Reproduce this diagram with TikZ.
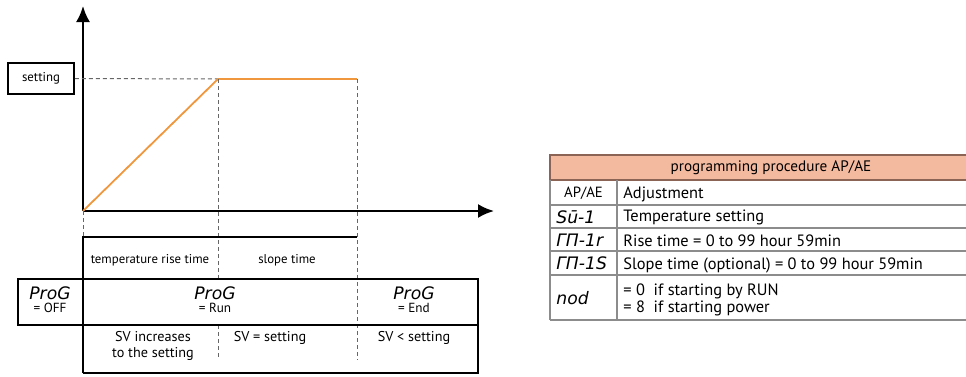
\documentclass[tikz,border=0pt]{standalone}
\usepackage{fontspec}
\setmainfont{PT Sans}
\newfontfamily\segfont{DejaVu Sans}
\usetikzlibrary{arrows.meta}
\usetikzlibrary{positioning}
\definecolor{ramp}{RGB}{240,150,60}
\definecolor{headfill}{RGB}{244,186,160}
\definecolor{headline}{RGB}{140,100,85}
\definecolor{gridgray}{RGB}{140,140,140}
\tikzset{axis/.style = {line width=1.1pt, -{Latex[length=8pt,width=7pt]}}}
\tikzset{guide/.style = {black!60, dash pattern=on 2pt off 1.5pt, line width=0.5pt}}
\tikzset{frame/.style = {line width=0.8pt}}
\tikzset{lbl/.style = {font=\fontsize{6.4}{7.4}\selectfont, inner sep=0}}
\tikzset{state/.style = {font=\fontsize{7.1}{8.1}\selectfont, inner sep=0, align=center}}
\tikzset{seg/.style = {font=\segfont\itshape\fontsize{8.6}{8.6}\selectfont, inner sep=0}}
\tikzset{segsub/.style = {font=\fontsize{6.6}{7}\selectfont, inner sep=0}}
\tikzset{cell/.style = {font=\fontsize{8.2}{8.2}\selectfont, inner sep=0, anchor=west, align=left}}
\tikzset{tabline/.style = {gridgray, line width=0.6pt}}

\begin{document}
\begin{tikzpicture}[x=0.5pt, y=-0.5pt]
    \useasboundingbox (0, 0) rectangle (966, 376);
    % axes
    \coordinate (O) at (83, 211);
    \coordinate (ytop) at (83, 6);
    \coordinate (xend) at (494, 211);
    \coordinate (A) at (218, 79);
    \coordinate (B) at (357, 79);
    \draw [axis] (O) -- (ytop);
    \draw [axis] (O) -- (xend);
    \node [draw, frame, lbl, minimum width=33pt, minimum height=15.5pt] (setting) at (41, 78.5) {setting};
    \draw [guide] (setting.east) -- (A);
    \draw [ramp, line width=0.9pt] (O) -- (A) -- (B);
    % time grid
    \coordinate (rowtop) at (83, 237);
    \coordinate (rowmid) at (218, 279);
    \draw [guide] (O) -- (rowtop);
    \draw [guide] (A) -- (rowmid);
    \draw [guide] (218, 325) -- (218, 360);
    \draw [guide] (B) -- (357, 360);
    \draw [frame] (83, 373) -- (rowtop) -- (357, 237);
    \draw [frame] (18, 279) rectangle (478, 325);
    \draw [frame] (83, 373) -- (478, 373) -- (478, 325);
    \node [lbl] (rise) at (150, 260) {temperature rise time};
    \node [lbl] (slope) at (287, 260) {slope time};
    \node [seg] (off) at (50, 293) {ProG};
    \node [segsub, below=1.5pt of off] (offsub) {= OFF};
    \node [seg] (run) at (215, 293) {ProG};
    \node [segsub, below=1.5pt of run] (runsub) {= Run};
    \node [seg] (end) at (414, 293) {ProG};
    \node [segsub, below=1.5pt of end] (endsub) {= End};
    \node [state] (sv1) at (153, 346) {SV increases\\to the setting};
    \node [state] (sv2) at (270, 338) {SV = setting};
    \node [state] (sv3) at (414, 338) {SV < setting};
    % table
    \fill [headfill] (550, 155) rectangle (966, 180);
    \draw [headline, line width=0.7pt] (966, 155) -- (550, 155) -- (550, 180) -- (966, 180);
    \node [font=\fontsize{7.6}{8.6}\selectfont, inner sep=0] (title) at (771, 168) {programming procedure AP/AE};
    \foreach \y in {205, 228, 251, 275, 320}
        \draw [tabline] (550, \y) -- (966, \y);
    \draw [tabline] (550, 180) -- (550, 320);
    \draw [tabline] (617, 180) -- (617, 320);
    \node [font=\fontsize{7.4}{8}\selectfont, inner sep=0] (k0) at (583.5, 193) {AP/AE};
    \node [seg, anchor=west] (k1) at (556, 217) {Sū-1};
    \node [seg, anchor=west] (k2) at (556, 240) {ΓΠ-1r};
    \node [seg, anchor=west] (k3) at (556, 263.5) {ΓΠ-1S};
    \node [seg, anchor=west] (k4) at (556, 298) {nod};
    \node [cell] (v0) at (623, 194) {Adjustment};
    \node [cell] (v1) at (623, 217) {Temperature setting};
    \node [cell] (v2) at (623, 241) {Rise time = 0 to 99 hour 59min};
    \node [cell] (v3) at (623, 265) {Slope time (optional) = 0 to 99 hour 59min};
    \node [cell] (v4) at (623, 300) {= 0\ \ if starting by RUN\\= 8\ \ if starting power};
\end{tikzpicture}
\end{document}
